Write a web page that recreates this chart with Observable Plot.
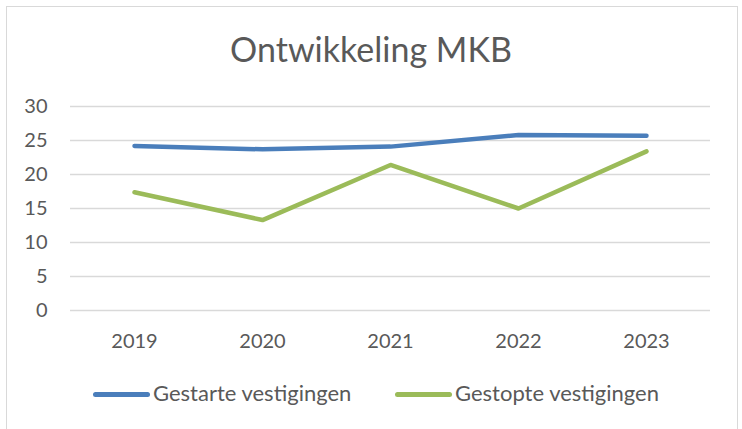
<!DOCTYPE html>
<html>
<head>
<meta charset="utf-8">
<script src="https://cdn.jsdelivr.net/npm/d3@7"></script>
<script src="https://cdn.jsdelivr.net/npm/@observablehq/plot@0.6"></script>
<style>
  html, body { margin: 0; padding: 0; background: #fff; overflow: hidden; }
  #chart { position: relative; width: 742px; height: 429px; background: #fff; font-family: Lato, "Open Sans", sans-serif; color: #595959; }
  #frame { position: absolute; left: 6px; top: 6px; width: 732px; height: 460px; border: 1.5px solid #d9d9d9; box-sizing: border-box; }
  #title { position: absolute; left: 0; width: 742px; top: 29px; text-align: center; font-size: 34px; line-height: 40px; }
  #plot { position: absolute; left: 0; top: 90px; }
  .leg { position: absolute; top: 380px; font-size: 22px; line-height: 26px; white-space: nowrap; }
  .sw { position: absolute; top: 391.5px; height: 5px; border-radius: 3px; }
</style>
</head>
<body>
<div id="chart">
  <div id="frame"></div>
  <div id="title"></div>
  <div id="plot"></div>
  <div id="legend"></div>
</div>
<script>
const title = "Ontwikkeling MKB";
const years = ["2019", "2020", "2021", "2022", "2023"];
const seriesNames = ["Gestarte vestigingen", "Gestopte vestigingen"];
const gestarte = [24.2, 23.7, 24.1, 25.8, 25.7];
const gestopte = [17.4, 13.3, 21.4, 15.0, 23.4];
const yTicks = [0, 5, 10, 15, 20, 25, 30];
const colors = ["#4a7ebb", "#9bbb59"];

const table = [];
years.forEach((y, i) => {
  table.push({year: y, series: seriesNames[0], value: gestarte[i]});
  table.push({year: y, series: seriesNames[1], value: gestopte[i]});
});

document.getElementById("title").textContent = title;

const chart = Plot.plot({
  width: 742,
  height: 270,
  marginLeft: 70,
  marginRight: 32,
  marginTop: 16,
  marginBottom: 50,
  style: {fontFamily: "Lato, 'Open Sans', sans-serif", fontSize: "20px", color: "#595959", background: "transparent", overflow: "visible"},
  x: {type: "point", domain: years, padding: 0.5},
  y: {domain: [0, 30]},
  color: {domain: seriesNames, range: colors},
  marks: [
    Plot.gridY(yTicks, {stroke: "#d9d9d9", strokeOpacity: 1, strokeWidth: 1.5}),
    Plot.axisY(yTicks, {tickSize: 0, tickPadding: 23, label: null, fill: "#595959"}),
    Plot.axisX({tickSize: 0, tickPadding: 23, label: null, fill: "#595959"}),
    Plot.line(table, {x: "year", y: "value", z: "series", stroke: "series", strokeWidth: 4.5, strokeLinecap: "round", strokeLinejoin: "round"})
  ]
});
document.getElementById("plot").appendChild(chart);

const legend = document.getElementById("legend");
const legX = [93, 395];
seriesNames.forEach((name, i) => {
  const sw = document.createElement("div");
  sw.className = "sw";
  sw.style.left = legX[i] + "px";
  sw.style.width = "57px";
  sw.style.background = colors[i];
  legend.appendChild(sw);
  const t = document.createElement("div");
  t.className = "leg";
  t.style.left = (legX[i] + 60) + "px";
  t.textContent = name;
  legend.appendChild(t);
});
</script>
</body>
</html>
